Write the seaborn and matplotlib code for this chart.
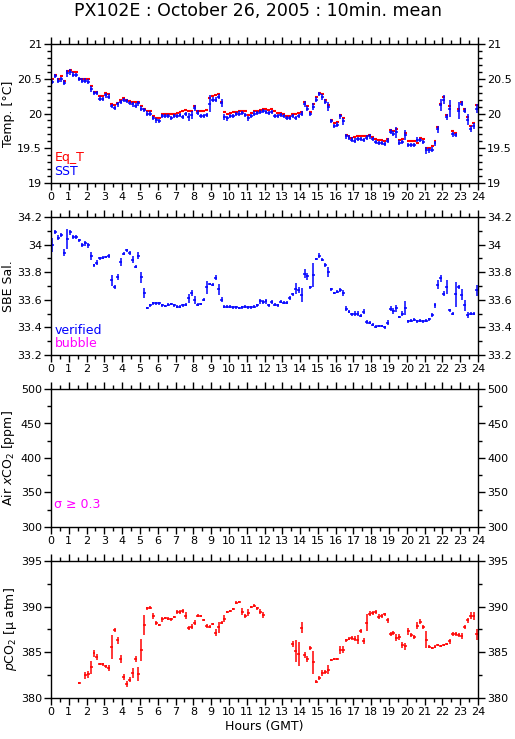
import numpy as np
import matplotlib
matplotlib.use("Agg")
import matplotlib.pyplot as plt
from matplotlib.ticker import MultipleLocator, FuncFormatter
import seaborn as sns

N = None
hours_ticks = list(range(25))

sst = [20.46, 20.54, 20.47, 20.49, 20.44, 20.58, 20.60, 20.56, 20.55, 20.50, 20.47, 20.47,
       20.46, 20.35, 20.29, 20.29, 20.21, 20.21, 20.26, 20.24, 20.11, 20.08, 20.13, 20.17,
       20.19, 20.18, 20.15, 20.13, 20.11, 20.15, 20.07, 20.05, 20.00, 20.00, 19.94, 19.90,
       19.89, 19.96, 19.96, 19.96, 19.94, 19.96, 19.96, 19.98, 19.95, 19.99, 19.95, 19.98,
       20.08, 20.01, 19.96, 19.97, 19.98, 20.14, 20.20, 20.20, 20.24, 20.15, 19.95, 19.93,
       19.96, 19.97, 19.99, 20.00, 20.01, 19.98, 19.93, 19.96, 20.00, 20.01, 20.02, 20.04,
       20.02, 20.01, 20.02, 19.96, 19.96, 19.98, 19.96, 19.93, 19.93, 19.96, 19.93, 19.96,
       20.00, 20.14, 20.07, 19.99, 20.10, 20.20, 20.28, 20.24, 20.17, 20.10, 19.89, 19.82,
       19.84, 19.96, 19.89, 19.67, 19.65, 19.62, 19.61, 19.63, 19.63, 19.62, 19.65, 19.67,
       19.63, 19.59, 19.58, 19.58, 19.56, 19.61, 19.74, 19.71, 19.73, 19.58, 19.59, 19.69,
       19.55, 19.55, 19.55, 19.62, 19.62, 19.59, 19.47, 19.47, 19.48, 19.57, 19.77, 20.12,
       20.20, 19.95, 20.07, 19.70, 19.69, 20.04, 20.14, 20.04, 19.91, 19.78, 19.82, 20.07]

sst_err = [0.04, 0.035, 0.035, 0.03, 0.035, 0.05, 0.04, 0.035, 0.03, 0.03, 0.035, 0.035,
           0.04, 0.04, 0.03, 0.03, 0.035, 0.03, 0.03, 0.035, 0.03, 0.03, 0.03, 0.03,
           0.03, 0.03, 0.03, 0.03, 0.035, 0.035, 0.035, 0.03, 0.03, 0.03, 0.03, 0.03,
           0.03, 0.03, 0.03, 0.03, 0.03, 0.03, 0.03, 0.03, 0.03, 0.03, 0.06, 0.06,
           0.04, 0.035, 0.03, 0.03, 0.03, 0.12, 0.035, 0.035, 0.035, 0.06, 0.05, 0.035,
           0.03, 0.03, 0.03, 0.03, 0.03, 0.03, 0.035, 0.03, 0.03, 0.03, 0.03, 0.03,
           0.03, 0.03, 0.03, 0.03, 0.03, 0.03, 0.03, 0.03, 0.03, 0.03, 0.03, 0.03,
           0.035, 0.04, 0.04, 0.03, 0.05, 0.035, 0.035, 0.04, 0.035, 0.06, 0.03, 0.035,
           0.035, 0.035, 0.05, 0.035, 0.035, 0.035, 0.035, 0.03, 0.03, 0.03, 0.035, 0.03,
           0.03, 0.03, 0.03, 0.03, 0.03, 0.04, 0.04, 0.04, 0.08, 0.035, 0.035, 0.07,
           0.03, 0.03, 0.03, 0.035, 0.03, 0.03, 0.05, 0.035, 0.035, 0.035, 0.05, 0.09,
           0.07, 0.04, 0.12, 0.04, 0.035, 0.12, 0.035, 0.035, 0.08, 0.04, 0.04, 0.06]

eq_t = [20.49, 20.56, 20.50, 20.54, 20.47, 20.61, 20.62, 20.59, 20.59, 20.50, 20.49, 20.49,
        20.49, 20.39, 20.31, 20.31, 20.25, 20.25, 20.29, 20.28, 20.14, 20.12, 20.15, 20.20,
        20.23, 20.20, 20.18, 20.17, 20.17, 20.17, 20.11, 20.07, 20.04, 20.04, 19.96, 19.94,
        19.93, 20.00, 20.00, 20.00, 19.99, 20.00, 20.01, 20.02, 20.03, 20.05, 20.03, 20.03,
        20.11, 20.03, 20.03, 20.03, 20.05, 20.23, 20.25, 20.26, 20.28, 20.17, 20.02, 19.99,
        20.01, 20.02, 20.02, 20.04, 20.04, 20.04, 19.98, 20.01, 20.04, 20.04, 20.05, 20.07,
        20.06, 20.05, 20.06, 20.03, 20.01, 20.01, 19.99, 19.96, 19.97, 20.00, 20.00, 20.01,
        20.02, 20.17, 20.11, 20.02, 20.13, 20.24, 20.30, 20.28, 20.19, 20.12, 19.91, 19.86,
        19.88, 19.98, 19.93, 19.69, 19.67, 19.65, 19.66, 19.67, 19.67, 19.67, 19.67, 19.69,
        19.66, 19.63, 19.62, 19.62, 19.61, 19.64, 19.76, 19.75, 19.77, 19.62, 19.63, 19.72,
        19.60, 19.60, 19.60, 19.58, 19.65, 19.64, 19.51, 19.50, 19.53, 19.61, 19.80, 20.14,
        20.24, 19.98, 20.11, 19.75, 19.72, 20.07, 20.17, 20.07, 19.95, 19.82, 19.86, 20.12]

sal = [33.995, 34.09, 34.05, 34.07, 33.94, 34.04, 34.09, 34.055, 34.055, 34.03, 34.0, 34.01,
       33.995, 33.92, 33.85, 33.87, 33.9, 33.905, 33.91, 33.915, 33.74, 33.69, 33.765, 33.875,
       33.935, 33.96, 33.94, 33.89, 33.84, 33.92, 33.765, 33.65, 33.54, 33.56, 33.575, 33.575,
       33.575, 33.56, 33.555, 33.565, 33.57, 33.56, 33.55, 33.55, 33.56, 33.565, 33.61, 33.65,
       33.6, 33.565, 33.57, 33.6, 33.69, 33.715, 33.71, 33.76, 33.675, 33.6, 33.55, 33.55,
       33.55, 33.545, 33.545, 33.54, 33.545, 33.55, 33.545, 33.545, 33.55, 33.56, 33.59, 33.585,
       33.59, 33.56, 33.585, 33.565, 33.56, 33.585, 33.58, 33.58, 33.61, 33.64, 33.68, 33.67,
       33.635, 33.79, 33.77, 33.69, 33.78, 33.895, 33.92, 33.89, 33.85, 33.8, 33.675, 33.65,
       33.66, 33.67, 33.65, 33.535, 33.515, 33.495, 33.5, 33.5, 33.485, 33.515, 33.44, 33.435,
       33.42, 33.405, 33.41, 33.41, 33.4, 33.435, 33.535, 33.52, 33.54, 33.475, 33.5, 33.54,
       33.445, 33.45, 33.455, 33.445, 33.45, 33.445, 33.45, 33.46, 33.49, 33.56, 33.71, 33.755,
       33.645, 33.69, 33.525, 33.5, 33.64, 33.69, 33.635, 33.56, 33.49, 33.5, 33.5, 33.67]

sal_err = [0.05, 0.015, 0.018, 0.015, 0.025, 0.07, 0.018, 0.015, 0.015, 0.01, 0.015, 0.018,
           0.018, 0.03, 0.01, 0.015, 0.01, 0.01, 0.01, 0.015, 0.04, 0.015, 0.02, 0.03,
           0.01, 0.01, 0.015, 0.025, 0.01, 0.025, 0.04, 0.035, 0.01, 0.01, 0.01, 0.01,
           0.01, 0.01, 0.01, 0.01, 0.01, 0.01, 0.01, 0.01, 0.01, 0.01, 0.03, 0.02,
           0.03, 0.01, 0.01, 0.01, 0.045, 0.01, 0.01, 0.018, 0.04, 0.018, 0.01, 0.01,
           0.01, 0.01, 0.01, 0.01, 0.01, 0.01, 0.01, 0.01, 0.01, 0.01, 0.018, 0.015,
           0.018, 0.01, 0.015, 0.01, 0.01, 0.01, 0.01, 0.01, 0.015, 0.01, 0.04, 0.02,
           0.05, 0.03, 0.025, 0.01, 0.09, 0.01, 0.018, 0.01, 0.015, 0.035, 0.01, 0.01,
           0.01, 0.015, 0.02, 0.018, 0.01, 0.01, 0.02, 0.02, 0.01, 0.02, 0.015, 0.01,
           0.01, 0.01, 0.01, 0.01, 0.01, 0.018, 0.018, 0.02, 0.025, 0.01, 0.02, 0.05,
           0.01, 0.01, 0.01, 0.01, 0.01, 0.01, 0.01, 0.01, 0.015, 0.02, 0.03, 0.025,
           0.02, 0.05, 0.01, 0.01, 0.09, 0.015, 0.04, 0.04, 0.02, 0.01, 0.01, 0.04]

pco2 = [N, N, N, N, N, N, N, N, N, 381.63, N, 382.5,
        382.6, 383.35, 384.9, 384.5, 383.7, 383.7, 383.45, 383.3, 385.55, 387.45, 386.3, 384.25,
        382.3, 381.5, 382.0, 382.75, 384.25, 382.6, 385.3, 388.0, 389.8, 389.9, 389.0, 388.2,
        387.95, 388.6, 388.8, 388.7, 388.6, 388.9, 389.4, 389.45, 389.55, 389.0, 387.65, 387.8,
        388.25, 389.0, 389.0, 388.55, 387.9, 387.8, 388.1, 387.15, 387.75, 388.25, 388.7, 389.45,
        389.55, 389.75, 390.45, 390.5, 389.45, 389.0, 389.35, 389.95, 390.1, 389.8, 389.45, 389.1,
        N, N, N, N, N, N, N, N, N, 385.9, 385.1, 384.85,
        387.7, 384.7, 384.25, 385.45, 383.9, 381.8, 382.2, 382.75, 382.85, 383.1, 384.15, 384.25,
        384.3, 385.25, 385.3, 386.3, 386.5, 386.6, 386.5, 386.4, 387.35, 386.25, 388.25, 389.25,
        389.3, 389.45, 388.9, 389.0, 389.15, 388.5, 387.0, 387.1, 386.6, 386.7, 385.8, 385.65,
        387.3, 386.9, 386.65, 387.9, 388.35, 387.75, 386.4, 385.6, 385.5, 385.6, 385.8, 385.7,
        385.8, 385.9, 386.2, 387.0, 387.0, 386.9, 386.8, 387.75, 388.5, 389.0, 389.0, 387.0]

pco2_err = [N, N, N, N, N, N, N, N, N, 0.1, N, 0.4,
            0.4, 0.75, 0.4, 0.35, 0.12, 0.15, 0.2, 0.3, 1.3, 0.2, 0.35, 0.45,
            0.35, 0.35, 0.25, 0.55, 0.3, 0.75, 1.2, 1.1, 0.15, 0.15, 0.35, 0.2,
            0.12, 0.3, 0.12, 0.12, 0.12, 0.12, 0.25, 0.2, 0.2, 0.4, 0.25, 0.25,
            0.3, 0.15, 0.12, 0.12, 0.25, 0.15, 0.15, 0.35, 0.6, 0.15, 0.35, 0.12,
            0.12, 0.12, 0.12, 0.12, 0.35, 0.2, 0.35, 0.12, 0.15, 0.12, 0.3, 0.3,
            N, N, N, N, N, N, N, N, N, 0.35, 1.2, 1.3,
            0.6, 0.35, 0.35, 0.2, 1.3, 0.2, 0.2, 0.3, 0.2, 0.5, 0.12, 0.12,
            0.12, 0.4, 0.4, 0.2, 0.2, 0.2, 0.25, 0.5, 0.2, 0.3, 0.9, 0.25,
            0.25, 0.2, 0.25, 0.2, 0.15, 0.3, 0.25, 0.25, 0.4, 0.3, 0.35, 0.35,
            0.35, 0.2, 0.2, 0.4, 0.3, 0.2, 0.9, 0.15, 0.12, 0.15, 0.12, 0.15,
            0.15, 0.15, 0.3, 0.25, 0.2, 0.2, 0.3, 0.2, 0.3, 0.4, 0.45, 0.6]

bin_minutes = 10

sns.set_theme(style="ticks")
plt.rcParams['font.family'] = ['DejaVu Sans']
plt.rcParams['mathtext.fontset'] = 'dejavusans'
for k in ['text.color', 'axes.labelcolor', 'xtick.color', 'ytick.color', 'axes.edgecolor']:
    plt.rcParams[k] = 'black'

def arr(v):
    return np.array([np.nan if x is None else x for x in v], dtype=float)

nb = len(sst)
t = (np.arange(nb) + 0.5) * bin_minutes / 60.0
half = bin_minutes / 120.0

fig = plt.figure(figsize=(5.15, 7.39), dpi=100)
L, W = 51 / 515, 427 / 515
tops = [44, 217, 389, 561]
bots = [183, 355, 527, 698]
axes = []
for tp, bt in zip(tops, bots):
    axes.append(fig.add_axes([L, 1 - bt / 739, W, (bt - tp) / 739]))

RED, BLUE, MAG = '#ff0000', '#0000ff', '#ff00ff'
fmt = FuncFormatter(lambda v, p: f'{v:g}')

def style(ax, ylim, major, minor, label, labx):
    ax.set_xlim(0, 24)
    ax.set_ylim(*ylim)
    ax.set_xticks(hours_ticks)
    ax.xaxis.set_minor_locator(MultipleLocator(0.5))
    ax.yaxis.set_major_locator(MultipleLocator(major))
    ax.yaxis.set_minor_locator(MultipleLocator(minor))
    ax.yaxis.set_major_formatter(fmt)
    ax.tick_params(which='both', direction='out', top=True, right=True,
                   labelright=True, labelbottom=True, colors='black',
                   labelsize=8, width=1, pad=1.5)
    ax.tick_params(which='major', length=5)
    ax.tick_params(which='minor', length=3)
    for s in ax.spines.values():
        s.set_visible(True)
        s.set_color('black')
        s.set_linewidth(1)
    ax.set_ylabel(label, fontsize=9)
    ax.yaxis.set_label_coords((labx - 51) / 427, 0.5)
    ax.set_facecolor('white')

# Panel 1: temperatures
ax = axes[0]
ax.errorbar(t, arr(eq_t), xerr=half, fmt='none', ecolor=RED, elinewidth=1.5)
ax.errorbar(t, arr(sst), xerr=half, yerr=arr(sst_err), fmt='none', ecolor=BLUE, elinewidth=1.1)
style(ax, (19, 21), 0.5, 0.1, 'Temp. [°C]', 15)
ax.text(0.008, 0.18, 'Eq_T', color=RED, transform=ax.transAxes, fontsize=9, va='center')
ax.text(0.008, 0.085, 'SST', color=BLUE, transform=ax.transAxes, fontsize=9, va='center')

# Panel 2: salinity
ax = axes[1]
ax.errorbar(t, arr(sal), xerr=half, yerr=arr(sal_err), fmt='none', ecolor=BLUE, elinewidth=1.1)
style(ax, (33.2, 34.2), 0.2, 0.1, 'SBE Sal.', 15)
ax.text(0.008, 0.18, 'verified', color=BLUE, transform=ax.transAxes, fontsize=9, va='center')
ax.text(0.008, 0.085, 'bubble', color=MAG, transform=ax.transAxes, fontsize=9, va='center')

# Panel 3: air xCO2 (no data)
ax = axes[2]
style(ax, (300, 500), 50, 25, r'Air $x$CO$_2$ [ppm]', 17)
ax.text(0.008, 0.165, 'σ ≥ 0.3', color=MAG, transform=ax.transAxes, fontsize=9, va='center')

# Panel 4: pCO2
ax = axes[3]
ax.errorbar(t, arr(pco2), xerr=half, yerr=arr(pco2_err), fmt='none', ecolor=RED, elinewidth=1.1)
style(ax, (380, 395), 5, 2.5, r'$p$CO$_2$ [μ atm]', 19)
ax.set_xlabel('Hours (GMT)', fontsize=9, labelpad=2)

fig.text(0.5, 1 - 2 / 739, 'PX102E : October 26, 2005 : 10min. mean',
         fontsize=12.5, ha='center', va='top', color='black')
fig.savefig('out.png', dpi=100, facecolor='white')
